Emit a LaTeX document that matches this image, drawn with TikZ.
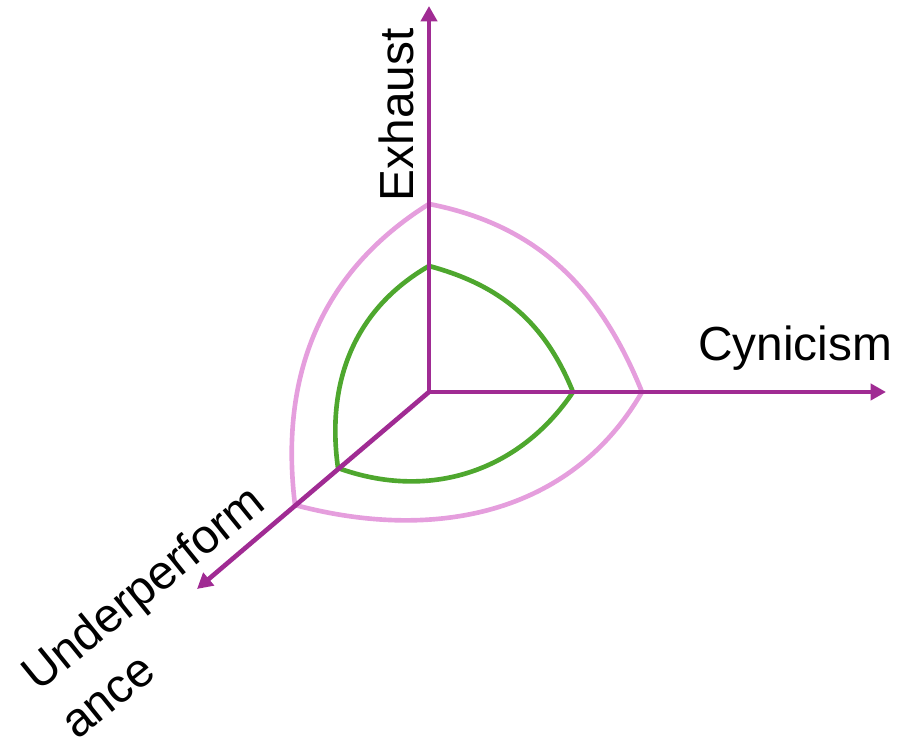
\documentclass[tikz,border=0pt]{standalone}
\usepackage{fontspec}
\setmainfont{Liberation Sans}
\usepackage{tikz}
\usetikzlibrary{arrows.meta}
\definecolor{axisPurple}{HTML}{A02B93}
\definecolor{outerPink}{HTML}{E59EDD}
\definecolor{innerGreen}{HTML}{4EA72E}

\begin{document}
\begin{tikzpicture}[x=0.025cm, y=0.025cm,
        axis/.style={line width=3.3pt, axisPurple, -{Triangle[length=11pt,width=11.5pt]}},
        outer/.style={line width=3.3pt, outerPink, line join=miter},
        inner/.style={line width=3.3pt, innerGreen, line join=miter},
        lbl/.style={inner sep=0pt, font=\fontsize{34}{44}\selectfont}]
    \useasboundingbox (0,0) rectangle (897,740);

    \coordinate (O) at (429,348);
    \coordinate (exTip) at (429,734);
    \coordinate (cyTip) at (886,348);
    \coordinate (unTip) at (197,151);

    % corners of the two curves
    \coordinate (pT) at (429,536);
    \coordinate (pR) at (642,348);
    \coordinate (pB) at (295,235);
    \coordinate (gT) at (429,474);
    \coordinate (gR) at (573,348);
    \coordinate (gB) at (338,272);

    \draw[outer] (pT) to[out=-11,in=112] (pR) to[out=-120,in=-15] (pB) to[out=97,in=-148] cycle;
    \draw[inner] (gT) to[out=-15,in=112] (gR) to[out=-124,in=-20] (gB) to[out=98,in=-150] cycle;

    \draw[axis] (O) -- (exTip);
    \draw[axis] (O) -- (cyTip);
    \draw[axis] (O) -- (unTip);

    \node[lbl, anchor=base, rotate=90] (exLbl) at (413,625) {Exhaust};
    \node[lbl, anchor=base west] (cyLbl) at (698,379) {Cynicism};
    \node[lbl, anchor=base west, rotate=39, align=left] (unLbl) at (77,-1) {Underperform\\ance};
\end{tikzpicture}
\end{document}
